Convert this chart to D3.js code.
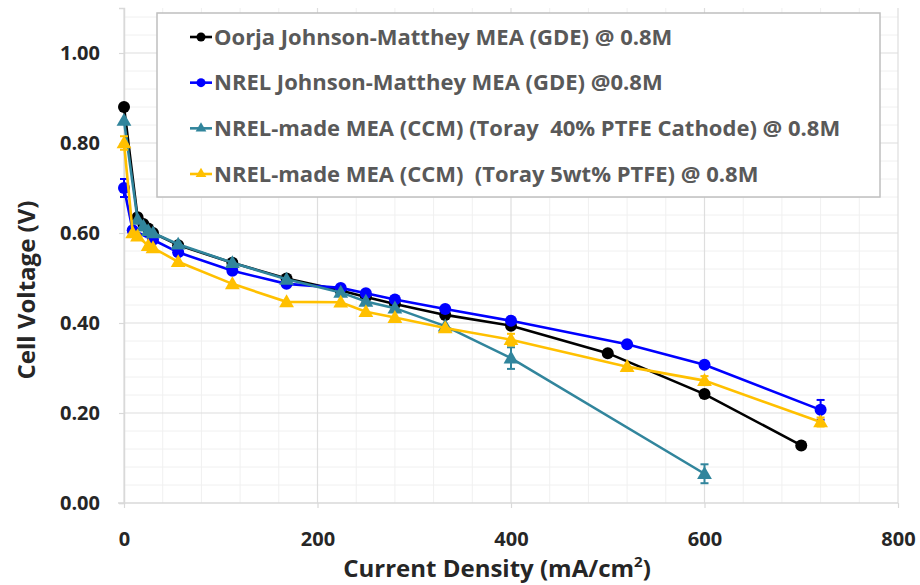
<!DOCTYPE html>
<html>
<head>
<meta charset="utf-8">
<script src="https://cdn.jsdelivr.net/npm/d3@7"></script>
<style>
  body { margin: 0; background: #fff; }
  svg { display: block; font-family: "Open Sans", sans-serif; }
</style>
</head>
<body>
<svg id="chart" width="920" height="585"></svg>
<script>
// ---- data ----
const xTicks = [0, 200, 400, 600, 800];
const yTicks = [0, 0.2, 0.4, 0.6, 0.8, 1.0];

const oorjaI = [0, 14, 20, 25, 30, 56, 112, 168, 224, 250, 280, 332, 400, 500, 600, 700];
const oorjaV = [0.88, 0.635, 0.62, 0.61, 0.60, 0.573, 0.534, 0.499, 0.472, 0.458, 0.442, 0.418, 0.394, 0.333, 0.242, 0.128];
const oorjaErr = [0, 0, 0, 0, 0, 0, 0, 0, 0, 0, 0, 0, 0, 0, 0, 0];

const nrelJmI = [0, 9, 30, 56, 112, 168, 224, 250, 280, 332, 400, 520, 600, 720];
const nrelJmV = [0.70, 0.606, 0.585, 0.557, 0.516, 0.487, 0.478, 0.466, 0.452, 0.431, 0.405, 0.353, 0.307, 0.207];
const nrelJmErr = [0.02, 0, 0, 0, 0, 0, 0, 0, 0, 0, 0, 0, 0, 0.022];

const ccm40I = [0, 14, 20, 25, 30, 56, 112, 168, 224, 250, 280, 332, 400, 600];
const ccm40V = [0.85, 0.63, 0.615, 0.605, 0.60, 0.575, 0.534, 0.497, 0.468, 0.448, 0.433, 0.393, 0.322, 0.065];
const ccm40Err = [0, 0, 0, 0, 0, 0, 0, 0, 0, 0, 0, 0, 0.024, 0.021];

const ccm5I = [0, 9, 14, 25, 30, 56, 112, 168, 224, 250, 280, 332, 400, 520, 600, 720];
const ccm5V = [0.80, 0.60, 0.593, 0.572, 0.567, 0.536, 0.487, 0.447, 0.446, 0.425, 0.412, 0.389, 0.363, 0.303, 0.272, 0.18];
const ccm5Err = [0.015, 0, 0, 0, 0, 0, 0, 0, 0, 0, 0, 0, 0.013, 0, 0.01, 0.01];

const seriesNames = [
  "Oorja Johnson-Matthey MEA (GDE) @ 0.8M",
  "NREL Johnson-Matthey MEA (GDE) @0.8M",
  "NREL-made MEA (CCM) (Toray  40% PTFE Cathode) @ 0.8M",
  "NREL-made MEA (CCM)  (Toray 5wt% PTFE) @ 0.8M"
];
const seriesColors = ["#000000", "#0000ff", "#31859c", "#ffc000"];
const seriesShapes = ["circle", "circle", "triangle", "triangle"];

const series = [
  [oorjaI, oorjaV, oorjaErr],
  [nrelJmI, nrelJmV, nrelJmErr],
  [ccm40I, ccm40V, ccm40Err],
  [ccm5I, ccm5V, ccm5Err]
].map(([xs, vs, es], k) => ({
  name: seriesNames[k],
  color: seriesColors[k],
  shape: seriesShapes[k],
  points: xs.map((x, i) => ({ x, v: vs[i], e: es[i] }))
}));

// ---- layout ----
const svg = d3.select("#chart");
const plot = { left: 124, right: 898, top: 8, bottom: 503 };

const x = d3.scaleLinear().domain([0, 800]).range([plot.left, plot.right]);
const y = d3.scaleLinear().domain([0, 1.1]).range([plot.bottom, plot.top]);

// gridlines: minor first, then major
const grid = svg.append("g").attr("class", "grid");
const minorX = d3.range(0, 801, 40).filter(d => d % 200 !== 0);
const minorY = d3.range(0, 28).map(i => i * 0.04).filter(d => d <= 1.1 && Math.abs(d / 0.2 - Math.round(d / 0.2)) > 1e-6);

grid.selectAll("line.mx").data(minorX).join("line")
  .attr("x1", d => x(d)).attr("x2", d => x(d))
  .attr("y1", plot.top).attr("y2", plot.bottom)
  .attr("stroke", "#f0f0f0").attr("stroke-width", 1);
grid.selectAll("line.my").data(minorY).join("line")
  .attr("x1", plot.left).attr("x2", plot.right)
  .attr("y1", d => y(d)).attr("y2", d => y(d))
  .attr("stroke", "#f0f0f0").attr("stroke-width", 1);
grid.selectAll("line.Mx").data(xTicks).join("line")
  .attr("x1", d => x(d)).attr("x2", d => x(d))
  .attr("y1", plot.top).attr("y2", plot.bottom)
  .attr("stroke", "#dedede").attr("stroke-width", 1.2);
grid.selectAll("line.My").data(yTicks.filter(d => d > 0)).join("line")
  .attr("x1", plot.left).attr("x2", plot.right)
  .attr("y1", d => y(d)).attr("y2", d => y(d))
  .attr("stroke", "#dedede").attr("stroke-width", 1.2);

// axes
const xAxis = svg.append("g")
  .attr("transform", `translate(0,${plot.bottom})`)
  .call(d3.axisBottom(x).tickValues(xTicks).tickSize(5).tickPadding(24).tickFormat(d3.format("d")));
const yAxis = svg.append("g")
  .attr("transform", `translate(${plot.left},0)`)
  .call(d3.axisLeft(y).tickValues(yTicks).tickSize(5).tickPadding(19).tickFormat(d3.format(".2f")));

[xAxis, yAxis].forEach(a => {
  a.select(".domain").attr("stroke", "#d9d9d9").attr("stroke-width", 1.5);
  a.selectAll(".tick line").attr("stroke", "#d9d9d9").attr("stroke-width", 1.2);
  a.selectAll(".tick text")
    .attr("fill", "#262626")
    .style("font-size", "20px")
    .style("font-weight", "bold")
    .style("font-family", "'Open Sans', sans-serif");
});
xAxis.select(".domain").attr("d", `M${plot.left - 6},0H${plot.right}`);

// axis titles
const xTitle = svg.append("text")
  .attr("x", 497).attr("y", 577)
  .attr("text-anchor", "middle")
  .attr("fill", "#262626")
  .style("font-size", "24px").style("font-weight", "bold");
xTitle.append("tspan").text("Current Density (mA/cm");
xTitle.append("tspan").attr("baseline-shift", "super").style("font-size", "15px").text("2");
xTitle.append("tspan").text(")");

svg.append("text")
  .attr("transform", "translate(35,290) rotate(-90)")
  .attr("text-anchor", "middle")
  .attr("fill", "#262626")
  .style("font-size", "24px").style("font-weight", "bold")
  .text("Cell Voltage (V)");

// series
const line = d3.line().x(d => x(d.x)).y(d => y(d.v));
const tri = d3.symbol().type(d3.symbolTriangle);

const gSeries = svg.append("g").attr("class", "series");
series.forEach(s => {
  const g = gSeries.append("g");
  g.append("path")
    .datum(s.points)
    .attr("d", line)
    .attr("fill", "none")
    .attr("stroke", s.color)
    .attr("stroke-width", 2.6);

  // error bars
  const eb = g.selectAll("g.err").data(s.points.filter(p => p.e > 0)).join("g");
  eb.append("line")
    .attr("x1", d => x(d.x)).attr("x2", d => x(d.x))
    .attr("y1", d => y(d.v - d.e)).attr("y2", d => y(d.v + d.e))
    .attr("stroke", s.color).attr("stroke-width", 2);
  [-1, 1].forEach(sign => {
    eb.append("line")
      .attr("x1", d => x(d.x) - 4).attr("x2", d => x(d.x) + 4)
      .attr("y1", d => y(d.v + sign * d.e)).attr("y2", d => y(d.v + sign * d.e))
      .attr("stroke", s.color).attr("stroke-width", 2);
  });

  if (s.shape === "circle") {
    g.selectAll("circle").data(s.points).join("circle")
      .attr("cx", d => x(d.x)).attr("cy", d => y(d.v))
      .attr("r", 6)
      .attr("fill", s.color);
  } else {
    g.selectAll("path.m").data(s.points).join("path")
      .attr("class", "m")
      .attr("d", tri.size(95))
      .attr("transform", d => `translate(${x(d.x)},${y(d.v) + 1})`)
      .attr("fill", s.color);
  }
});

// legend
const legend = svg.append("g").attr("class", "legend");
legend.append("rect")
  .attr("x", 157).attr("y", 13)
  .attr("width", 723).attr("height", 184)
  .attr("fill", "#fff")
  .attr("stroke", "#bfbfbf")
  .attr("stroke-width", 1.5);

const legendRows = d3.scaleLinear().domain([0, 3]).range([37, 174]);
const item = legend.selectAll("g.item").data(series).join("g")
  .attr("transform", (d, i) => `translate(0,${legendRows(i)})`);
item.append("line")
  .attr("x1", 190).attr("x2", 212)
  .attr("stroke", d => d.color).attr("stroke-width", 2.6);
item.each(function (d) {
  const g = d3.select(this);
  if (d.shape === "circle") {
    g.append("circle").attr("cx", 201).attr("cy", 0).attr("r", 4.5).attr("fill", d.color);
  } else {
    g.append("path").attr("d", d3.symbol().type(d3.symbolTriangle).size(50)())
      .attr("transform", "translate(201,0)").attr("fill", d.color);
  }
});
item.append("text")
  .attr("x", 214).attr("y", 0).attr("dy", "0.35em")
  .attr("fill", "#595959")
  .style("font-size", "22px").style("font-weight", "bold")
  .style("white-space", "pre")
  .attr("xml:space", "preserve")
  .text(d => d.name);
</script>
</body>
</html>
